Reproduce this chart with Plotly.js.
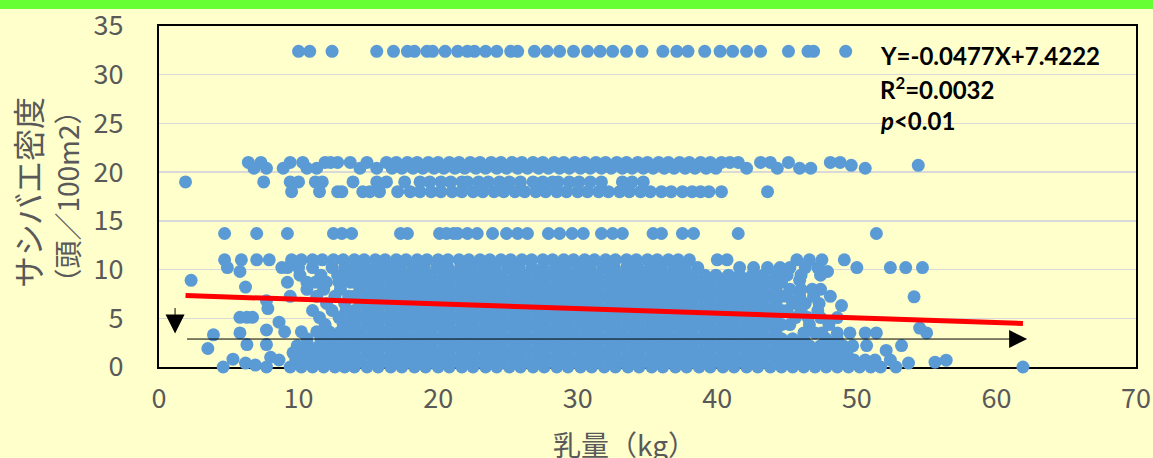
<!DOCTYPE html>
<html><head><meta charset="utf-8">
<script src="https://cdn.plot.ly/plotly-3.0.1.min.js"></script>
<style>html,body{margin:0;padding:0;background:#FFFFCC;}#chart{width:1153px;height:458px;}</style>
</head><body><div id="chart"></div>
<script>
// ---- data ----
const x_32_4 = [10.0,10.8,12.4,15.6,16.8,17.8,18.3,19.2,19.6,20.5,21.4,22.1,22.6,23.4,24.2,25.2,25.7,26.9,27.8,28.7,29.7,30.7,31.6,32.5,33.5,34.6,36.1,37.1,37.9,39.1,40.2,41.1,42.1,43.1,45.1,46.5,46.9,49.2];
const x_21_0 = [6.4,7.3,9.4,10.3,11.9,12.3,12.8,13.7,14.9,16.3,17.0,17.8,18.5,19.3,20.0,20.8,21.5,22.3,23.0,23.8,24.5,25.3,26.0,26.8,27.5,28.3,29.0,29.8,30.5,31.3,32.0,32.8,33.5,34.3,35.0,35.8,36.5,37.3,38.0,38.8,39.5,40.3,40.9,41.5,43.1,43.8,45.1,48.1,48.8];
const x_20_7 = [49.6,54.4];
const x_20_4 = [6.8,7.7,8.9,10.6,11.3,14.4,15.6,16.7,17.4,18.2,18.9,19.7,20.4,21.2,21.9,22.7,23.4,24.2,24.9,25.7,26.4,27.2,27.9,28.7,29.4,30.2,30.9,31.7,32.4,33.2,33.9,34.7,35.4,36.2,36.9,37.7,38.4,39.2,39.9,42.1,44.3,45.9,46.7,50.6];
const x_19_0 = [1.9,7.5,9.4,10.0,11.2,11.7,13.9,15.6,16.3,17.6,18.7,19.4,20.2,20.9,21.7,22.1,22.9,23.6,24.4,25.1,25.9,26.8,27.5,28.2,28.6,29.4,30.1,30.9,31.7,33.2,33.9,34.7];
const x_18_0 = [9.5,11.5,12.8,13.1,14.6,15.1,15.8,17.1,18.0,18.7,19.5,20.2,21.0,21.7,22.5,23.2,24.0,24.7,25.5,26.2,27.0,27.7,28.5,29.2,30.0,30.7,31.5,32.2,33.0,33.7,34.5,35.2,36.0,36.7,37.5,38.2,38.8,39.4,40.3,43.6];
const x_13_7 = [4.7,7.0,9.2,12.5,13.1,13.8,17.3,17.8,20.1,20.6,21.1,21.4,22.1,22.8,23.9,24.9,25.7,26.4,27.9,28.7,29.6,30.4,31.7,32.5,33.2,35.4,36.0,37.5,38.3,41.5,51.4];
const x_11_0 = [4.7,5.9,7.0,7.9,9.5,10.2,11.0,11.7,12.5,13.2,14.0,14.7,15.5,16.2,17.0,17.7,18.5,19.2,20.0,20.7,21.5,22.2,23.0,23.7,24.5,25.2,26.0,26.7,27.5,28.2,29.0,29.7,30.5,31.2,32.0,32.7,33.5,34.2,35.0,35.7,36.5,37.2,38.0,40.0,40.7,45.7,46.6,47.5,49.1];
const x_10_2 = [4.9,8.8,9.2,10.0,11.0,12.4,13.3,14.0,14.8,15.6,16.5,17.3,18.2,19.0,19.9,20.7,21.6,22.4,23.3,24.1,25.0,25.8,26.7,27.5,28.4,29.2,30.1,30.9,31.8,32.6,33.5,34.3,35.2,36.0,36.9,37.7,38.6,41.6,42.6,43.6,44.5,45.2,46.3,47.2,50.0,52.4,53.5,54.7];
const levelY = [32.4, 21.0, 20.7, 20.4, 19.0, 18.0, 13.7, 11.0, 10.2];
const levelX = [x_32_4, x_21_0, x_20_7, x_20_4, x_19_0, x_18_0, x_13_7, x_11_0, x_10_2];

// dense block of the scatter (two staggered sets of rows)
const coreXA = [14.0,14.9,15.7,16.6,17.4,18.3,19.1,20.0,20.8,21.7,22.5,23.4,24.2,25.1,25.9,26.8,27.6,28.5,29.3,30.2,31.0,31.9,32.7,33.6,34.4,35.3,36.1,37.0,37.8,38.7,39.5,40.4,41.2,42.1,42.9,43.8,44.6];
const coreXB = [14.4,15.3,16.1,17.0,17.8,18.7,19.5,20.4,21.2,22.1,22.9,23.8,24.6,25.5,26.3,27.2,28.0,28.9,29.7,30.6,31.4,32.3,33.1,34.0,34.8,35.7,36.5,37.4,38.2,39.1,39.9,40.8,41.6,42.5,43.3,44.2];
const coreYA = [0,1.45,2.9,4.35,5.8,7.25,8.7];
const coreYB = [0.72,2.17,3.62,5.07,6.52,7.97,9.42];

// left edge of the dense block
const leftX = [9.4,10.2,11.0,11.8,12.6,13.3, 8.6,9.8,10.6,11.4,12.2,13.0,13.7, 9.6,10.4,11.2,12.0,12.8,13.6, 9.9,10.7,11.5,12.3,13.1,13.8, 10.6,11.6,12.4,13.2, 9.0,10.2,11.3,12.2,13.0,13.8, 11.9,13.2, 11.5,12.9,13.8, 11.0,12.4,13.4, 12.0,13.3, 9.4,11.3,12.6,13.6, 10.6,11.8,13.0, 9.2,10.6,11.2,12.0,12.9,13.7, 10.1,11.6,12.8,13.6];
const leftY = [0,0,0,0,0,0, 0.72,0.72,0.72,0.72,0.72,0.72,0.72, 1.45,1.45,1.45,1.45,1.45,1.45, 2.17,2.17,2.17,2.17,2.17,2.17, 2.9,2.9,2.9,2.9, 3.62,3.62,3.62,3.62,3.62,3.62, 4.35,4.35, 5.07,5.07,5.07, 5.8,5.8,5.8, 6.52,6.52, 7.25,7.25,7.25,7.25, 7.97,7.97,7.97, 8.7,8.7,8.7,8.7,8.7,8.7, 9.42,9.42,9.42,9.42];

// scattered points far left
const farX = [2.3,5.8,6.2,7.8,7.7,5.8,6.3,6.7,3.9,3.5,5.8,6.3,7.7,7.7,8.6,4.6,5.3,6.2,6.9,7.7,8.0];
const farY = [8.9,9.8,8.2,6.0,6.8,5.1,5.1,5.1,3.3,1.9,3.5,2.3,3.8,2.3,4.6,0,0.8,0.4,0.2,0,1.0];

// right edge of the dense block and scattered points on the right
const rightX = [45.4,46.2,47.0,47.8,48.6,49.4,50.2,51.0,51.7,52.8,61.9, 45.0,45.8,46.6,47.4,48.2,49.0,49.8,50.6,51.3,52.4, 45.4,46.2,47.0,47.8,48.6,49.3, 45.0,45.8,46.6,47.4,48.2,49.0,49.7, 45.4,46.2,47.8,48.6, 46.2,47.0,47.5,48.6,49.5,50.6,51.4, 45.2,46.6,48.0, 45.6,46.5,47.4,48.6, 45.0,46.0,47.2, 45.4,46.3,47.3, 45.0,45.9,46.9,48.1, 45.2,46.0,46.8,47.4, 45.0,46.0,47.4, 53.7,55.6,56.4,52.1,53.2,50.7,55.0,54.5,54.1,48.9,47.9,45.9];
const rightY = [0,0,0,0,0,0,0,0,0,0,0, 0.72,0.72,0.72,0.72,0.72,0.72,0.72,0.72,0.72,0.72, 1.45,1.45,1.45,1.45,1.45,1.45, 2.17,2.17,2.17,2.17,2.17,2.17,2.17, 2.9,2.9,2.9,2.9, 3.5,3.5,3.5,3.5,3.5,3.5,3.5, 4.35,4.35,4.35, 5.07,5.07,5.07,5.07, 5.8,5.8,5.8, 6.52,6.52,6.52, 7.25,7.25,7.25,7.25, 7.97,7.97,7.97,7.97, 9.42,9.42,9.42, 0.4,0.5,0.7,1.7,2.2,2.2,3.5,4.0,7.2,6.3,9.8,8.9];

// regression
const slope = -0.0477;
const intercept = 7.4222;
const statLines = ['Y=-0.0477X+7.4222', 'R<sup>2</sup>=0.0032', '<i>p</i>&lt;0.01'];

const xTicks = [0,10,20,30,40,50,60,70];
const yTicks = [0,5,10,15,20,25,30,35];

// ---- build the point lists ----
const X = [], Y = [];
levelY.forEach((yv, i) => levelX[i].forEach(xv => { X.push(xv); Y.push(yv); }));
coreYA.forEach(yv => coreXA.forEach(xv => { X.push(xv); Y.push(yv); }));
coreYB.forEach(yv => coreXB.forEach(xv => { X.push(xv); Y.push(yv); }));
[[leftX,leftY],[farX,farY],[rightX,rightY]].forEach(([xs,ys]) => xs.forEach((xv,i) => { X.push(xv); Y.push(ys[i]); }));

const xMin = Math.min(...X), xMax = Math.max(...X);
const trendX = [xMin, xMax];
const trendY = trendX.map(v => slope*v + intercept);

const gray = '#595959';
const cjk = '"Noto Sans CJK JP", sans-serif';
const tickFont = {family: cjk, size: 27, color: gray};

const data = [
  {type:'scatter', mode:'markers', x:X, y:Y, cliponaxis:false, hoverinfo:'skip',
   marker:{size:13, color:'#5B9BD5', line:{width:0}}},
  {type:'scatter', mode:'lines', x:trendX, y:trendY, cliponaxis:false, hoverinfo:'skip',
   line:{color:'#FF0000', width:5}}
];

const annotations = [
  // horizontal arrow
  {x:62.2, y:2.87, ax:xMin, ay:2.87, xref:'x', yref:'y', axref:'x', ayref:'y', text:'', showarrow:true,
   arrowhead:2, arrowsize:3.6, arrowwidth:1, arrowcolor:'#000000', standoff:0},
  // vertical arrow
  {x:1.15, y:3.45, ax:1.15, ay:6.2, xref:'x', yref:'y', axref:'x', ayref:'y', text:'', showarrow:true,
   arrowhead:2, arrowsize:3.8, arrowwidth:1, arrowcolor:'#000000', standoff:0},
  // y title lines
  {xref:'paper', yref:'paper', x:(27-159)/977, y:0.51, text:'サシバエ密度', textangle:-90, showarrow:false,
   xanchor:'center', yanchor:'middle', font:{family:cjk, size:32, color:gray}},
  {xref:'paper', yref:'paper', x:(66-159)/977, y:0.5, text:'（頭／100m2）', textangle:-90, showarrow:false,
   xanchor:'center', yanchor:'middle', font:{family:cjk, size:28, color:gray}},
  // x title
  {xref:'paper', yref:'paper', x:(624-159)/977, y:(367-444)/341, text:'乳量（kg）', showarrow:false,
   xanchor:'center', yanchor:'middle', font:{family:cjk, size:28, color:gray}}
];
statLines.forEach((t, i) => annotations.push({
  xref:'paper', yref:'paper', x:(878-159)/977, y:(367-(55+33*i))/341, text:t, showarrow:false,
  xanchor:'left', yanchor:'middle', font:{family:'Lato, "Liberation Sans", sans-serif', size:24, color:'#000000', weight:700}
}));

const layout = {
  width:1153, height:458,
  margin:{l:159, r:17, t:26, b:91, pad:0},
  paper_bgcolor:'#FFFFCC', plot_bgcolor:'#FFFFCC',
  showlegend:false,
  xaxis:{range:[0,70], tickvals:xTicks, ticktext:xTicks.map(String), showgrid:false, zeroline:false,
         showline:true, linecolor:'#000000', linewidth:2, mirror:true, ticks:'', tickfont:tickFont,
         ticklabelstandoff:7, layer:'below traces', fixedrange:true},
  yaxis:{range:[0,35], tickvals:yTicks, ticktext:yTicks.map(String), showgrid:true, gridcolor:'#D9D9D9', gridwidth:1.5,
         zeroline:false, showline:true, linecolor:'#000000', linewidth:2, mirror:true, ticks:'', tickfont:tickFont,
         ticklabelstandoff:28, layer:'below traces', fixedrange:true},
  shapes:[{type:'rect', xref:'paper', yref:'paper', x0:-0.2, x1:1.1, y0:(367-9)/341, y1:(367+2)/341,
           fillcolor:'#66FF33', line:{width:0}, layer:'above'}],
  annotations:annotations
};

Plotly.newPlot('chart', data, layout, {displayModeBar:false, staticPlot:true});
</script>
</body></html>
